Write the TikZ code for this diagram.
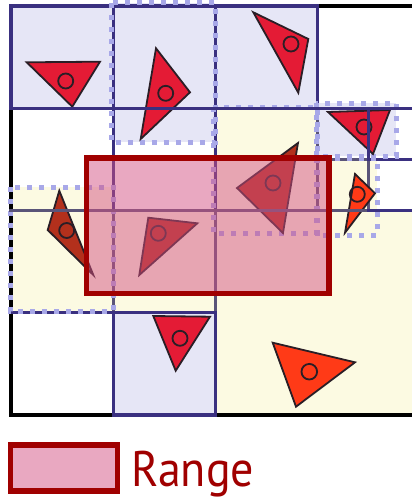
\documentclass[tikz,border=0pt]{standalone}
\usepackage{fontspec}
\usepackage{graphicx}
\newfontfamily\legendfont{PT Sans}
\definecolor{lav}{HTML}{E6E6F6}
\definecolor{yel}{HTML}{FCFAE2}
\definecolor{navy}{HTML}{3A3080}
\definecolor{slate}{HTML}{5A5478}
\definecolor{dotc}{HTML}{A8A8E8}
\definecolor{crim}{HTML}{E41B35}
\definecolor{orng}{HTML}{FF3A17}
\definecolor{dred}{HTML}{B3301C}
\definecolor{triline}{HTML}{2A1E26}
\definecolor{rangered}{HTML}{A00000}
\definecolor{rangefill}{HTML}{D35183}
\tikzset{
  gridline/.style={line width=3.4pt, line cap=rect},
  navyline/.style={gridline, draw=navy},
  slateline/.style={gridline, draw=slate},
  loosebox/.style={draw=dotc, line width=5pt, dash pattern=on 5pt off 7pt},
  tri/.style={draw=triline, line width=1.8pt, line join=miter},
  ctr/.style={draw=triline, line width=1.8pt},
  rangebox/.style={draw=rangered, line width=5.5pt, fill=rangefill, fill opacity=0.5, draw opacity=1},
}
\def\XA{11}\def\XB{113.2}\def\XC{215.4}\def\XD{317.6}\def\XE{419.8}\def\XM{368.7}
\def\YA{6}\def\YB{108.2}\def\YC{210.4}\def\YD{312.6}\def\YE{414.8}\def\YM{159.3}
\begin{document}
\begin{tikzpicture}[x=1pt,y=-1pt]
\useasboundingbox (0,0) rectangle (412,501);
\begin{scope}
\clip (0,0) rectangle (412,501);
% fills
\fill[yel] (\XC,\YC) rectangle (\XE,\YE);
\fill[yel] (\XB,\YC) rectangle (\XC,\YD);
\fill[yel] (10,187) rectangle (\XB,311);
\fill[yel] (213,107) rectangle (317,233);
\fill[yel] (316,158) rectangle (377,235);
\fill[lav] (\XA,\YA) rectangle (\XB,\YB);
\fill[lav] (\XB,2.5) rectangle (\XC,142);
\fill[lav] (\XC,\YA) rectangle (\XD,\YB);
\fill[lav] (\XB,\YD) rectangle (\XC,\YE);
\fill[lav] (316,103) rectangle (396,156);
% outer border
\draw[line width=4.5pt, black] (\XA,\YA) rectangle (\XE,\YE);
% slate lines
\draw[slateline] (\XA,\YC) -- (\XM,\YC);
\draw[slateline] (\XB,\YC) -- (\XB,\YD);
\draw[slateline] (\XC,\YC) -- (\XC,\YD);
\draw[slateline] (\XD,\YB) -- (\XD,\YC);
\draw[slateline] (\XM,\YM) -- (\XM,\YC);
\draw[slateline] (\XD,\YM) -- (\XM,\YM);
% navy lines
\draw[navyline] (\XA,\YD) -- (\XC,\YD);
\draw[navyline] (\XB,\YA) -- (\XB,\YC);
\draw[navyline] (\XC,\YA) -- (\XC,\YC);
\draw[navyline] (\XD,\YA) -- (\XD,\YB);
\draw[navyline] (\XM,\YC) -- (\XE,\YC);
\draw[navyline] (\XM,\YM) -- (\XE,\YM);
\draw[navyline] (\XA,\YA) rectangle (\XD,\YB);
\draw[navyline] (\XB,\YD) rectangle (\XC,\YE);
\draw[navyline] (\XA,\YA) -- (\XA,\YB);
% loose boxes
\draw[loosebox] (111,2.5) rectangle (215,142);
\draw[loosebox] (213,107) rectangle (317,233);
\draw[loosebox] (316,103) rectangle (396,156);
\draw[loosebox] (316,158) rectangle (377,235);
\draw[loosebox] (10,187) rectangle (113,311);
% triangles
\draw[tri, fill=crim] (26.7,62.3) -- (100,61.7) -- (72.3,106.7) -- cycle;
\draw[ctr] (65.7,81) circle[radius=7.5pt];
\draw[tri, fill=crim] (156,48.3) -- (190,92.3) -- (140.7,139) -- cycle;
\draw[ctr] (165.7,93.3) circle[radius=7.5pt];
\draw[tri, fill=crim] (253.3,12.3) -- (308.3,39) -- (298.3,92.7) -- cycle;
\draw[ctr] (291,44) circle[radius=7.5pt];
\draw[tri, fill=crim] (328,112) -- (390,110) -- (373,154) -- cycle;
\draw[ctr] (364,127) circle[radius=7.5pt];
\draw[tri, fill=dred] (298,143) -- (237,188) -- (283,233) -- cycle;
\draw[ctr] (273,183) circle[radius=7.5pt];
\draw[tri, fill=orng] (355,174) -- (375,193.3) -- (345,232.7) -- cycle;
\draw[ctr] (357.3,194.3) circle[radius=7.5pt];
\draw[tri, fill=dred] (59.3,190.7) -- (47.7,230) -- (93.3,275) -- cycle;
\draw[ctr] (66.7,230.5) circle[radius=7.5pt];
\draw[tri, fill=dred] (148.3,217.7) -- (197.3,223.3) -- (139.3,275) -- cycle;
\draw[ctr] (158.3,233.3) circle[radius=7.5pt];
\draw[tri, fill=crim] (153.3,316) -- (210,316.7) -- (175.7,370.7) -- cycle;
\draw[ctr] (180,338.3) circle[radius=7.5pt];
\draw[tri, fill=orng] (272.7,342.7) -- (355,362.3) -- (296,406.7) -- cycle;
\draw[ctr] (309.3,371.7) circle[radius=7.8pt];
% lines drawn over objects
\draw[navyline] (\XA,\YB) -- (\XE,\YB);
\draw[navyline] (\XM,\YB) -- (\XM,\YM);
\draw[slateline] (\XA,\YC) -- (\XM,\YC);
\draw[navyline] (\XM,\YC) -- (\XE,\YC);
% range
\draw[rangebox] (86.5,158) rectangle (329,293.5);
\end{scope}
% legend
\node[rangebox, minimum width=106.8pt, minimum height=46.4pt, inner sep=0pt] (key) at (64.1,468) {};
\node[anchor=base west, text=rangered, inner sep=0pt] (label) at (131,486.7) {\scalebox{0.92}[1]{\legendfont\fontsize{50}{50}\selectfont Range}};
\end{tikzpicture}
\end{document}
